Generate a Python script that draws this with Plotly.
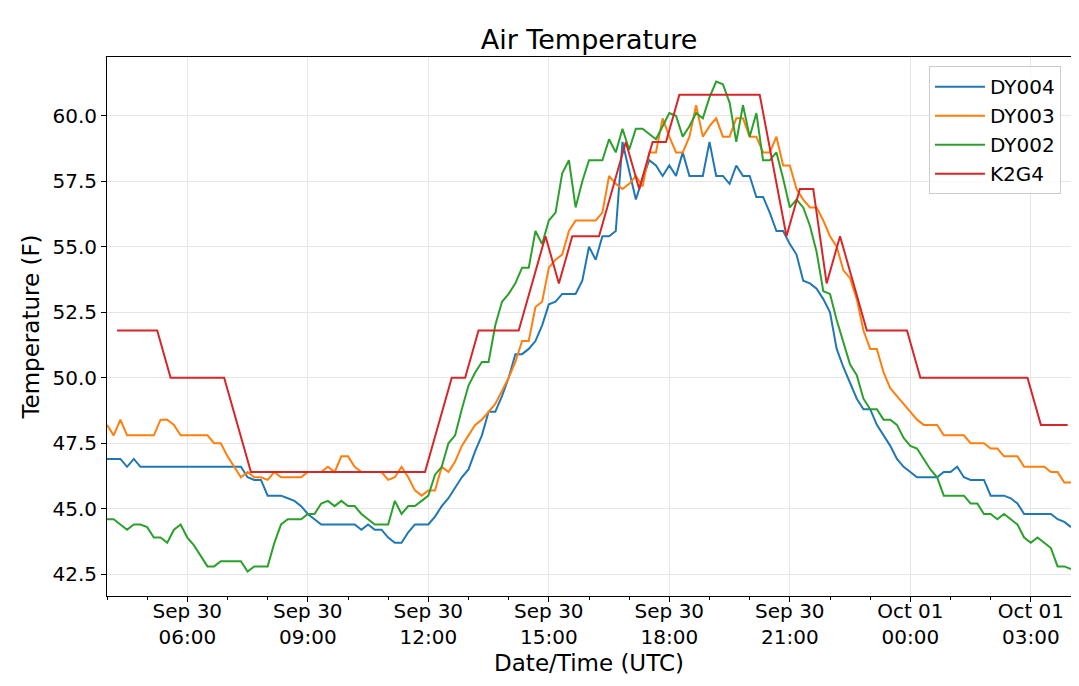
import pandas as pd
import plotly.graph_objects as go

# 10-minute station readings, 04:00 Sep 30 to 04:00 Oct 01 (UTC)
dy_times = pd.date_range("2018-09-30 04:00", periods=145, freq="10min")

dy004 = [46.9, 46.9, 46.9, 46.6, 46.9, 46.6,
         46.6, 46.6, 46.6, 46.6, 46.6, 46.6,
         46.6, 46.6, 46.6, 46.6, 46.6, 46.6,
         46.6, 46.6, 46.6, 46.2, 46.1, 46.1,
         45.5, 45.5, 45.5, 45.4, 45.3, 45.1,
         44.8, 44.6, 44.4, 44.4, 44.4, 44.4,
         44.4, 44.4, 44.2, 44.4, 44.2, 44.2,
         43.9, 43.7, 43.7, 44.1, 44.4, 44.4,
         44.4, 44.7, 45.1, 45.4, 45.8, 46.2,
         46.5, 47.2, 47.8, 48.7, 48.7, 49.3,
         50.0, 50.9, 50.9, 51.1, 51.4, 52.0,
         52.8, 52.9, 53.2, 53.2, 53.2, 53.7,
         55.0, 54.5, 55.4, 55.4, 55.6, 59.0,
         57.9, 56.8, 57.6, 58.3, 58.1, 57.7,
         58.1, 57.7, 58.6, 57.7, 57.7, 57.7,
         59.0, 57.7, 57.7, 57.4, 58.1, 57.7,
         57.7, 56.9, 56.9, 56.3, 55.6, 55.6,
         55.1, 54.7, 53.7, 53.6, 53.4, 53.0,
         52.5, 51.1, 50.4, 49.8, 49.2, 48.8,
         48.8, 48.2, 47.8, 47.4, 46.9, 46.6,
         46.4, 46.2, 46.2, 46.2, 46.2, 46.4,
         46.4, 46.6, 46.2, 46.1, 46.1, 46.1,
         45.5, 45.5, 45.5, 45.4, 45.2, 44.8,
         44.8, 44.8, 44.8, 44.8, 44.6, 44.5,
         44.3]

dy003 = [48.2, 47.8, 48.4, 47.8, 47.8, 47.8,
         47.8, 47.8, 48.4, 48.4, 48.2, 47.8,
         47.8, 47.8, 47.8, 47.8, 47.5, 47.5,
         47.0, 46.6, 46.2, 46.4, 46.2, 46.2,
         46.1, 46.4, 46.2, 46.2, 46.2, 46.2,
         46.4, 46.4, 46.4, 46.6, 46.4, 47.0,
         47.0, 46.6, 46.4, 46.4, 46.4, 46.4,
         46.1, 46.2, 46.6, 46.2, 45.7, 45.5,
         45.7, 45.7, 46.6, 46.4, 46.8, 47.4,
         47.8, 48.2, 48.4, 48.7, 49.0, 49.5,
         50.0, 50.6, 51.4, 51.4, 52.7, 52.9,
         54.2, 54.5, 54.7, 55.6, 56.0, 56.0,
         56.0, 56.0, 56.3, 57.7, 57.4, 57.2,
         57.4, 57.7, 57.3, 58.6, 58.6, 59.9,
         59.2, 58.6, 58.6, 59.2, 60.4, 59.2,
         59.6, 59.9, 59.2, 59.2, 59.9, 59.9,
         59.2, 59.2, 58.6, 58.6, 59.2, 58.1,
         58.1, 57.2, 56.8, 56.5, 56.5, 56.0,
         55.4, 55.0, 54.1, 53.8, 53.0, 51.8,
         51.1, 51.1, 50.2, 49.6, 49.3, 49.0,
         48.7, 48.4, 48.2, 48.2, 48.2, 47.8,
         47.8, 47.8, 47.8, 47.5, 47.5, 47.5,
         47.3, 47.3, 47.0, 47.0, 47.0, 46.6,
         46.6, 46.6, 46.6, 46.4, 46.4, 46.0,
         46.0]

dy002 = [44.6, 44.6, 44.4, 44.2, 44.4, 44.4,
         44.3, 43.9, 43.9, 43.7, 44.2, 44.4,
         43.9, 43.6, 43.2, 42.8, 42.8, 43.0,
         43.0, 43.0, 43.0, 42.6, 42.8, 42.8,
         42.8, 43.7, 44.4, 44.6, 44.6, 44.6,
         44.8, 44.8, 45.2, 45.3, 45.1, 45.3,
         45.1, 45.1, 44.8, 44.6, 44.4, 44.4,
         44.4, 45.3, 44.8, 45.1, 45.1, 45.3,
         45.5, 46.3, 46.6, 47.5, 47.8, 48.8,
         49.7, 50.2, 50.6, 50.6, 52.0, 52.9,
         53.2, 53.6, 54.2, 54.2, 55.6, 55.1,
         56.0, 56.3, 57.8, 58.3, 56.5, 57.5,
         58.3, 58.3, 58.3, 59.1, 58.6, 59.5,
         58.7, 59.5, 59.5, 59.3, 59.1, 59.6,
         60.1, 60.0, 59.2, 59.6, 60.1, 59.9,
         60.7, 61.3, 61.2, 60.5, 59.0, 60.4,
         59.2, 60.1, 58.3, 58.3, 58.6, 57.6,
         56.5, 56.8, 56.5, 55.8, 54.8, 53.3,
         53.2, 52.2, 51.3, 50.5, 50.1, 49.2,
         48.8, 48.8, 48.4, 48.4, 48.2, 47.7,
         47.4, 47.3, 46.9, 46.5, 46.2, 45.5,
         45.5, 45.5, 45.5, 45.2, 45.2, 44.8,
         44.8, 44.6, 44.8, 44.6, 44.4, 43.9,
         43.7, 43.9, 43.7, 43.5, 42.8, 42.8,
         42.7]

# airport obs (20-minute reports, some missing)
k2g4_times = ["09-30 04:15", "09-30 04:35", "09-30 04:55", "09-30 05:15",
              "09-30 05:35", "09-30 05:55", "09-30 06:15", "09-30 06:35", "09-30 06:55",
              "09-30 07:35", "09-30 07:55", "09-30 08:15", "09-30 08:35", "09-30 08:55",
              "09-30 09:15", "09-30 09:35", "09-30 09:55", "09-30 10:15", "09-30 10:35",
              "09-30 10:55", "09-30 11:15", "09-30 11:35", "09-30 11:55",
              "09-30 12:35", "09-30 12:55",
              "09-30 13:15", "09-30 13:35", "09-30 13:55", "09-30 14:15",
              "09-30 14:55", "09-30 15:15",
              "09-30 15:35", "09-30 15:55", "09-30 16:15",
              "09-30 16:55", "09-30 17:15", "09-30 17:35", "09-30 17:55",
              "09-30 18:15", "09-30 18:35", "09-30 18:55", "09-30 19:15",
              "09-30 19:35", "09-30 19:55", "09-30 20:15",
              "09-30 20:55", "09-30 21:15", "09-30 21:35", "09-30 21:55", "09-30 22:15",
              "09-30 22:55", "09-30 23:15", "09-30 23:35", "09-30 23:55",
              "10-01 00:15", "10-01 00:35", "10-01 00:55", "10-01 01:15", "10-01 01:35",
              "10-01 01:55", "10-01 02:15", "10-01 02:35", "10-01 02:55",
              "10-01 03:15", "10-01 03:35", "10-01 03:55"]
k2g4 = [51.8, 51.8, 51.8, 51.8,
        50.0, 50.0, 50.0, 50.0, 50.0,
        46.4, 46.4, 46.4, 46.4, 46.4,
        46.4, 46.4, 46.4, 46.4, 46.4,
        46.4, 46.4, 46.4, 46.4,
        50.0, 50.0,
        51.8, 51.8, 51.8, 51.8,
        55.4, 53.6,
        55.4, 55.4, 55.4,
        59.0, 57.2, 59.0, 59.0,
        60.8, 60.8, 60.8, 60.8,
        60.8, 60.8, 60.8,
        55.4, 57.2, 57.2, 53.6, 55.4,
        51.8, 51.8, 51.8, 51.8,
        50.0, 50.0, 50.0, 50.0, 50.0,
        50.0, 50.0, 50.0, 50.0,
        48.2, 48.2, 48.2]
k2g4_dt = pd.to_datetime(["2018-" + t for t in k2g4_times])

y_ticks = [42.5, 45.0, 47.5, 50.0, 52.5, 55.0, 57.5, 60.0]
y_labels = ["%.1f" % v for v in y_ticks]

series = [("DY004", dy_times, dy004, "#1f77b4"),
          ("DY003", dy_times, dy003, "#ff7f0e"),
          ("DY002", dy_times, dy002, "#2ca02c"),
          ("K2G4", k2g4_dt, k2g4, "#d62728")]

fig = go.Figure()
for name, x, y, color in series:
    fig.add_trace(go.Scatter(x=x, y=y, name=name, mode="lines", legendgroup=name,
                             line=dict(color=color, width=2)))

# page body has an 8px margin, so the figure is shrunk by that much
fig.update_layout(
    width=1071, height=678,
    margin=dict(l=99, r=8, t=49, b=90),
    paper_bgcolor="white", plot_bgcolor="white",
    font=dict(family="DejaVu Sans", size=20, color="black"),
    title=dict(text="Air Temperature", x=0.5, xref="paper", xanchor="center",
               y=1 - 32 / 678, yref="container", yanchor="middle",
               font=dict(size=27)),
    legend=dict(x=0.9896, y=0.983, xanchor="right", yanchor="top",
                bgcolor="rgba(255,255,255,0.8)", bordercolor="#cccccc",
                borderwidth=1, font=dict(size=20), tracegroupgap=3,
                traceorder="normal", itemwidth=50),
)

fig.update_xaxes(
    type="date",
    range=["2018-09-30 04:00", "2018-10-01 04:00"],
    tick0="2018-09-30 00:00", dtick=3 * 3600000,
    tickformat="%b %d\n%H:%M",
    ticks="outside", ticklen=5, tickcolor="black", ticklabelstandoff=-8,
    showline=True, linecolor="black", linewidth=1, mirror=True,
    showgrid=True, gridcolor="#e6e6e6", zeroline=False,
    minor=dict(dtick=3600000, ticks="outside", ticklen=3,
               tickcolor="black", showgrid=False),
    title=dict(text="Date/Time (UTC)", font=dict(size=23), standoff=6),
)
fig.update_yaxes(
    range=[41.67, 62.24],
    tickmode="array", tickvals=y_ticks, ticktext=y_labels,
    ticks="outside", ticklen=5, tickcolor="black",
    showline=True, linecolor="black", linewidth=1, mirror=True,
    showgrid=True, gridcolor="#e6e6e6", zeroline=False,
    title=dict(text="Temperature (F)", font=dict(size=23), standoff=6),
)

fig.write_html("out.html")
